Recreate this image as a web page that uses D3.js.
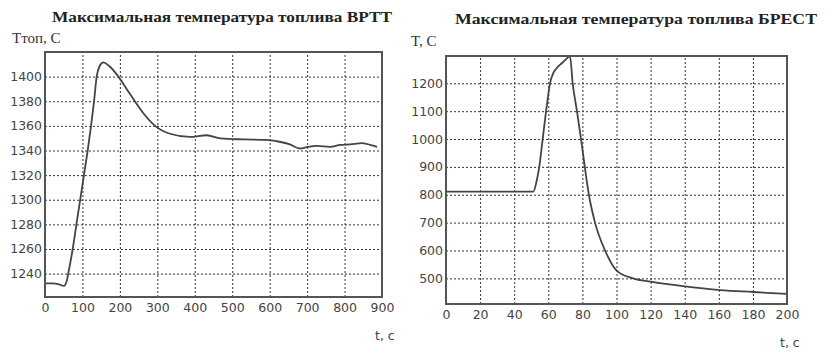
<!DOCTYPE html>
<html>
<head>
<meta charset="utf-8">
<script src="https://cdn.jsdelivr.net/npm/d3@7"></script>
<style>
  body { margin: 0; background: #fff; }
  svg { display: block; }
  .tick text { font-family: "DejaVu Sans", sans-serif; font-size: 12.5px; fill: #444; }
  .tick line { stroke: #333; stroke-dasharray: 2,2; stroke-width: 1; }
  .title { font-family: "Liberation Serif", serif; font-weight: bold; font-size: 15px; fill: #222; }
  .ylab { font-family: "Liberation Serif", serif; font-size: 15px; fill: #333; }
  .xlab { font-family: "DejaVu Sans", sans-serif; font-size: 12.5px; fill: #444; }
</style>
</head>
<body>
<svg id="chart" width="826" height="349"></svg>
<script>
// ВРТТ
const vrttTime = [0, 20, 40, 50, 58, 62, 74, 84, 94, 104, 114, 123, 131, 138, 146, 156, 170, 196, 218, 240, 266, 294, 334, 387, 432, 468, 530, 592, 619, 654, 681, 699, 726, 761, 788, 815, 846, 868, 887];
const vrttTemp = [1232, 1232, 1231, 1230, 1234, 1240, 1260, 1280, 1300, 1320, 1340, 1360, 1380, 1400, 1408.6, 1411.5, 1409, 1400, 1390, 1380, 1369, 1360, 1353.6, 1351, 1352.4, 1349.8, 1349, 1348.6, 1347.5, 1345, 1341.6, 1342.7, 1343.7, 1343, 1344.5, 1345, 1346, 1344.6, 1343];
const vrttXTicks = [0, 100, 200, 300, 400, 500, 600, 700, 800, 900];
const vrttYTicks = [1240, 1260, 1280, 1300, 1320, 1340, 1360, 1380, 1400];

// БРЕСТ
const brestTime = [0, 20, 40, 51.2, 53, 54.7, 56.7, 58.7, 61, 62.9, 65, 67.9, 70.5, 72.7, 74.3, 76.8, 79.2, 81.4, 83.8, 87.4, 93.3, 100.1, 109.7, 120, 139, 161, 180, 200];
const brestTemp = [811, 811, 811, 811, 845, 900, 1000, 1100, 1200, 1236, 1255, 1272, 1287, 1298, 1200, 1100, 1000, 900, 800, 700, 600, 528, 500, 488, 472, 458, 451, 444];
const brestXTicks = [0, 20, 40, 60, 80, 100, 120, 140, 160, 180, 200];
const brestYTicks = [500, 600, 700, 800, 900, 1000, 1100, 1200];

const svg = d3.select("#chart");

function drawPanel(p) {
    const x = d3.scaleLinear().domain(p.xDomain).range([p.left, p.right]);
    const y = d3.scaleLinear().domain(p.yDomain).range([p.bottom, p.top]);
    const g = svg.append("g");

    const clipId = "clip-" + p.id;
    g.append("clipPath").attr("id", clipId)
        .append("rect")
        .attr("x", p.left).attr("y", p.top)
        .attr("width", p.right - p.left).attr("height", p.bottom - p.top);

    g.append("g")
        .attr("transform", `translate(0,${p.bottom})`)
        .call(d3.axisBottom(x).tickValues(p.xTicks).tickSize(-(p.bottom - p.top)).tickPadding(6).tickFormat(d3.format("d")))
        .call(a => a.select(".domain").remove());

    g.append("g")
        .attr("transform", `translate(${p.left},0)`)
        .call(d3.axisLeft(y).tickValues(p.yTicks).tickSize(-(p.right - p.left)).tickPadding(3).tickFormat(d3.format("d")))
        .call(a => a.select(".domain").remove());

    const line = d3.line()
        .x((d, i) => x(p.xs[i]))
        .y((d, i) => y(p.ys[i]))
        .curve(d3.curveMonotoneX);

    g.append("path")
        .datum(p.xs)
        .attr("clip-path", `url(#${clipId})`)
        .attr("d", line)
        .attr("fill", "none")
        .attr("stroke", "#444")
        .attr("stroke-width", 1.8);

    g.append("rect")
        .attr("x", p.left).attr("y", p.top)
        .attr("width", p.right - p.left).attr("height", p.bottom - p.top)
        .attr("fill", "none")
        .attr("stroke", "#555")
        .attr("stroke-width", 2);

    g.append("text").attr("class", "title")
        .attr("x", p.titleX).attr("y", p.titleY)
        .attr("text-anchor", "middle")
        .attr("textLength", p.titleW).attr("lengthAdjust", "spacingAndGlyphs")
        .text(p.title);

    g.append("text").attr("class", "ylab")
        .attr("x", p.yLabX).attr("y", p.yLabY)
        .text(p.yLabel);

    g.append("text").attr("class", "xlab")
        .attr("x", p.xLabX).attr("y", p.xLabY)
        .text("t, с");
}

drawPanel({
    id: "vrtt", xs: vrttTime, ys: vrttTemp, xTicks: vrttXTicks, yTicks: vrttYTicks,
    xDomain: [0, 900], yDomain: [1221, 1420],
    left: 45, right: 382, top: 52, bottom: 297,
    title: "Максимальная температура топлива ВРТТ", titleX: 222, titleY: 22, titleW: 340,
    yLabel: "Tтоп, С", yLabX: 12, yLabY: 43,
    xLabX: 375, xLabY: 340
});

drawPanel({
    id: "brest", xs: brestTime, ys: brestTemp, xTicks: brestXTicks, yTicks: brestYTicks,
    xDomain: [0, 200], yDomain: [408, 1298],
    left: 446, right: 787, top: 56, bottom: 304,
    title: "Максимальная температура топлива БРЕСТ", titleX: 636, titleY: 24, titleW: 362,
    yLabel: "T, С", yLabX: 411, yLabY: 46,
    xLabX: 780, xLabY: 347
});
</script>
</body>
</html>
